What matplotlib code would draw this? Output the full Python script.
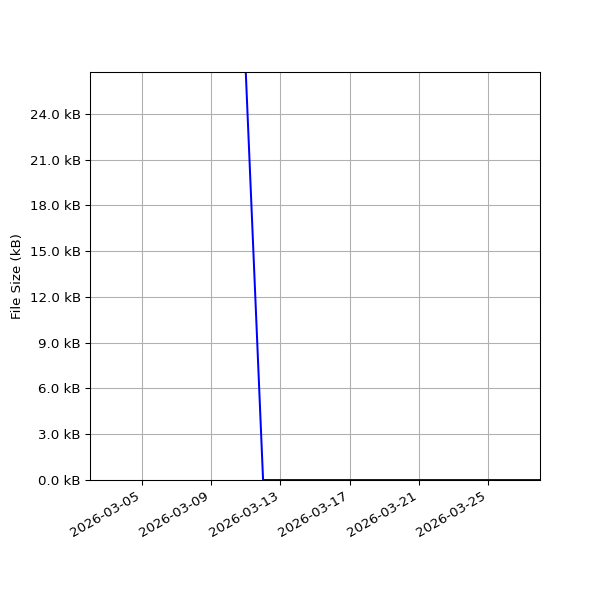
import matplotlib
matplotlib.use("Agg")
import matplotlib.pyplot as plt
import matplotlib.dates as mdates
from matplotlib.ticker import MultipleLocator, FuncFormatter
import numpy as np
import pandas as pd

# daily file sizes in kB (no data before 03-11)
dates = pd.date_range("2026-03-02", "2026-03-28", freq="D")
sizes_kb = [np.nan] * 9 + [26.75] + [0.0] * 17

fig, ax = plt.subplots(figsize=(6.25, 6.25), dpi=96)
fig.subplots_adjust(left=0.15, right=0.9, top=0.88, bottom=0.2)

ax.plot(dates, sizes_kb, color="blue")
ax.set_xlim(dates[0], dates[-1])
ax.set_ylim(0, np.nanmax(sizes_kb))

ax.yaxis.set_major_locator(MultipleLocator(3))
ax.yaxis.set_major_formatter(FuncFormatter(lambda v, p: f"{v:.1f} kB"))
ax.set_ylabel("File Size (kB)")

ax.xaxis.set_major_locator(mdates.DayLocator(bymonthday=[5, 9, 13, 17, 21, 25]))
ax.xaxis.set_major_formatter(mdates.DateFormatter("%Y-%m-%d"))
for lbl in ax.get_xticklabels():
    lbl.set_rotation(30)
    lbl.set_ha("right")

ax.grid(True)

fig.savefig("out.png", dpi=96)
